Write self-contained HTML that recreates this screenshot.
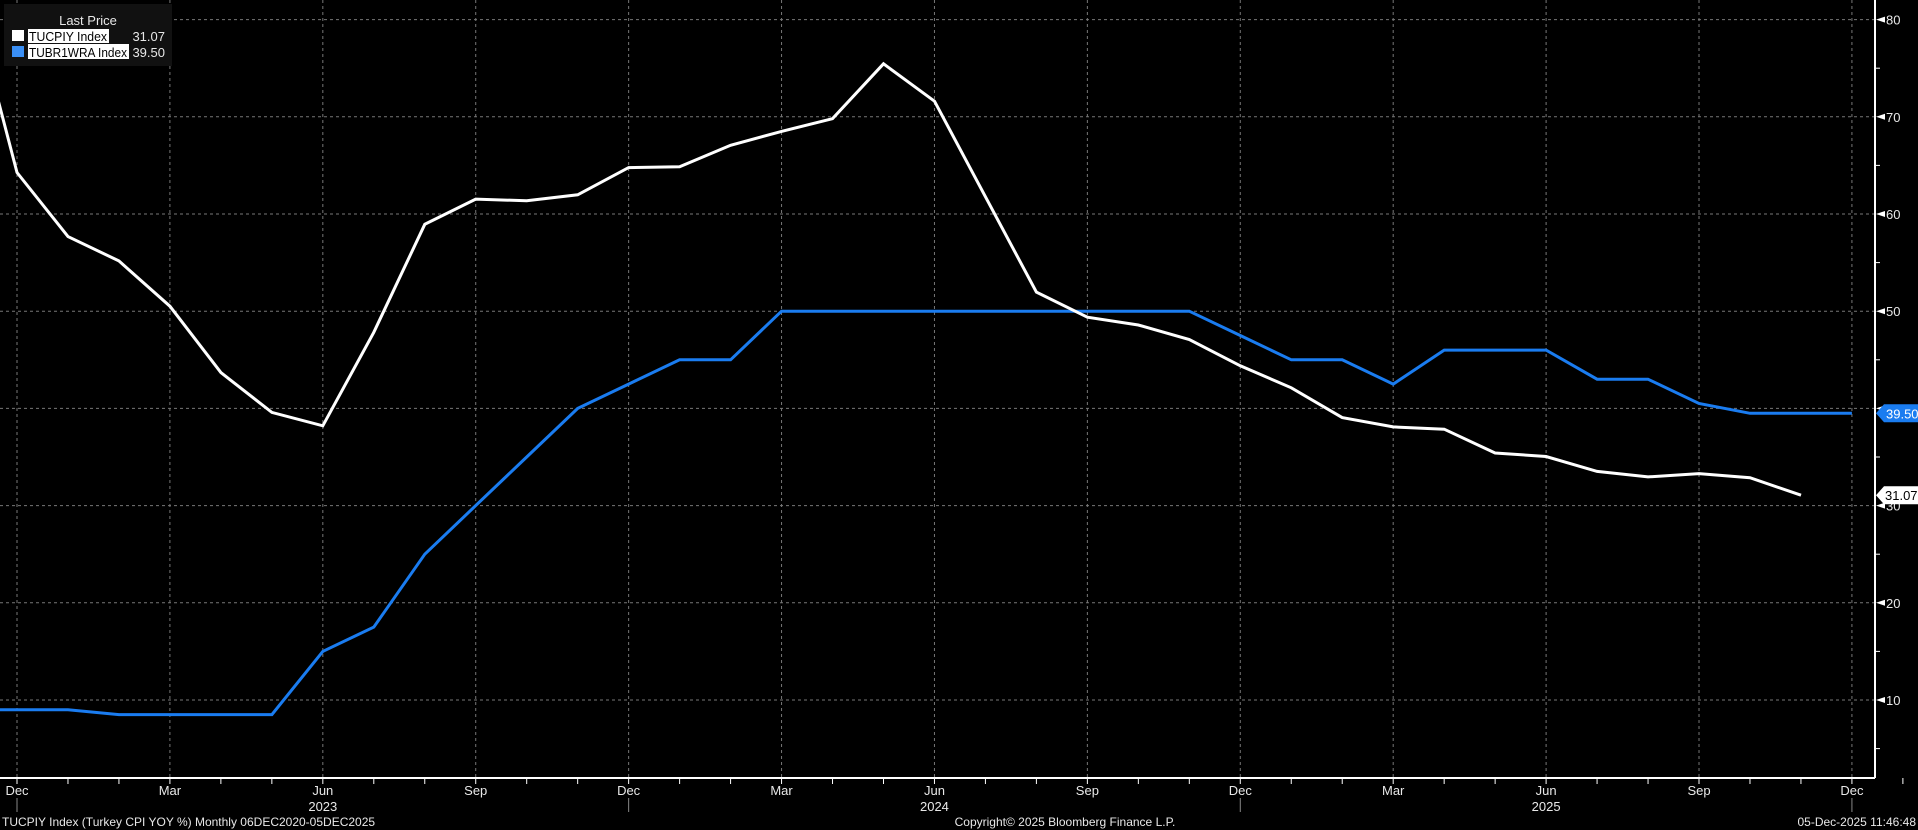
<!DOCTYPE html>
<html><head><meta charset="utf-8"><style>
html,body{margin:0;padding:0;background:#000;width:1918px;height:830px;overflow:hidden}
svg{display:block}
text{font-family:"Liberation Sans",sans-serif}
</style></head><body>
<svg id="c" width="1918" height="830" xmlns="http://www.w3.org/2000/svg"></svg>
<script>
const S=document.getElementById('c');let h='';
const X=i=>17+50.97*i, Y=v=>19.6+(80-v)*9.72;
for(let v=10;v<=80;v+=10){const y=Y(v);h+=`<line x1="0" y1="${y}" x2="1875" y2="${y}" stroke="#777" stroke-dasharray="3,3" stroke-width="1"/>`;}
for(let i=0;i<=36;i+=3){const x=X(i);h+=`<line x1="${x}" y1="0" x2="${x}" y2="778" stroke="#777" stroke-dasharray="3,3" stroke-width="1"/>`;}
h+=`<line x1="0" y1="778" x2="1875" y2="778" stroke="#fff" stroke-width="2"/><line x1="1875" y1="0" x2="1875" y2="778" stroke="#fff" stroke-width="2"/>`;
for(let i=-1;i<=37;i++){const x=X(i);h+=`<line x1="${x}" y1="778" x2="${x}" y2="784" stroke="#fff"/>`;}
const m=['Dec','Mar','Jun','Sep'];
for(let i=0;i<=36;i+=3){const x=X(i);h+=`<text x="${x}" y="795" fill="#e8e8e8" font-size="13" text-anchor="middle">${m[(i/3)%4]}</text>`;}
[['2023',6],['2024',18],['2025',30]].forEach(a=>{h+=`<text x="${X(a[1])}" y="811" fill="#e8e8e8" font-size="13" text-anchor="middle">${a[0]}</text>`;});
[0,12,24,36].forEach(i=>{h+=`<line x1="${X(i)}" y1="798" x2="${X(i)}" y2="812" stroke="#888"/>`;});
for(let v=10;v<=80;v+=10){const y=Y(v);h+=`<polygon points="1876,${y} 1885,${y-3} 1885,${y+3}" fill="#fff"/><text x="1886" y="${y+5}" fill="#e8e8e8" font-size="13">${v}</text>`;
 const y2=Y(v-5);h+=`<line x1="1875" y1="${y2}" x2="1880" y2="${y2}" stroke="#fff"/>`;}
const cpi=[[-1,84.39],[0,64.27],[1,57.68],[2,55.18],[3,50.51],[4,43.68],[5,39.59],[6,38.21],[7,47.83],[8,58.94],[9,61.53],[10,61.36],[11,61.98],[12,64.77],[13,64.86],[14,67.07],[15,68.5],[16,69.8],[17,75.45],[18,71.6],[19,61.78],[20,51.97],[21,49.38],[22,48.58],[23,47.09],[24,44.38],[25,42.12],[26,39.05],[27,38.1],[28,37.86],[29,35.41],[30,35.05],[31,33.52],[32,32.95],[33,33.29],[34,32.87],[35,31.07]];
const pr=[[-1,9],[0,9],[1,9],[2,8.5],[3,8.5],[4,8.5],[5,8.5],[6,15],[7,17.5],[8,25],[9,30],[10,35],[11,40],[12,42.5],[13,45],[14,45],[15,50],[16,50],[17,50],[18,50],[19,50],[20,50],[21,50],[22,50],[23,50],[24,47.5],[25,45],[26,45],[27,42.5],[28,46],[29,46],[30,46],[31,43],[32,43],[33,40.5],[34,39.5],[35,39.5],[36,39.5]];
const pl=d=>d.map(p=>X(p[0]).toFixed(1)+','+Y(p[1]).toFixed(1)).join(' ');
h+=`<polyline points="${pl(pr)}" fill="none" stroke="#1a7cf0" stroke-width="3"/>`;
h+=`<polyline points="${pl(cpi)}" fill="none" stroke="#fff" stroke-width="3"/>`;
let y=Y(39.5);h+=`<polygon points="1876,${y} 1884,${y-9} 1918,${y-9} 1918,${y+9} 1884,${y+9}" fill="#1a7cf0"/><text x="1886" y="${y+5}" fill="#fff" font-size="13">39.50</text>`;
y=Y(31.07);h+=`<polygon points="1876,${y} 1884,${y-9} 1918,${y-9} 1918,${y+9} 1884,${y+9}" fill="#fff"/><text x="1885" y="${y+5}" fill="#000" font-size="13">31.07</text>`;
h+=`<rect x="4" y="4" width="168" height="62" fill="#111"/><text x="88" y="25" fill="#e8e8e8" font-size="13" text-anchor="middle">Last Price</text>
<rect x="12" y="30" width="12" height="11" fill="#fff"/><rect x="28" y="29" width="81" height="14" fill="#fff"/><text x="29" y="41" fill="#000" font-size="13" textLength="78" lengthAdjust="spacingAndGlyphs">TUCPIY Index</text><text x="165" y="41" fill="#e8e8e8" font-size="13" text-anchor="end">31.07</text>
<rect x="12" y="46" width="12" height="11" fill="#3a8ff5"/><rect x="28" y="44" width="101" height="15" fill="#fff"/><text x="29" y="57" fill="#000" font-size="13" textLength="98" lengthAdjust="spacingAndGlyphs">TUBR1WRA Index</text><text x="165" y="57" fill="#e8e8e8" font-size="13" text-anchor="end">39.50</text>`;
h+=`<text x="2" y="826" fill="#e8e8e8" font-size="12">TUCPIY Index (Turkey CPI YOY %) Monthly 06DEC2020-05DEC2025</text>
<text x="1065" y="826" fill="#e8e8e8" font-size="12" text-anchor="middle">Copyright© 2025 Bloomberg Finance L.P.</text>
<text x="1916" y="826" fill="#e8e8e8" font-size="12" text-anchor="end">05-Dec-2025 11:46:48</text>`;
S.innerHTML=h;
</script>
</body></html>
